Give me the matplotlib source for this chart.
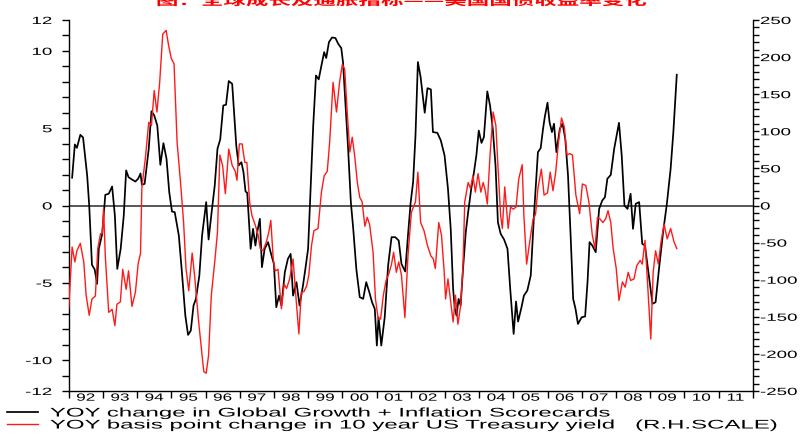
import matplotlib
matplotlib.use("Agg")
import matplotlib.pyplot as plt
from matplotlib.ticker import FixedLocator, NullFormatter
from matplotlib.patheffects import AbstractPathEffect
from matplotlib.transforms import Affine2D

plt.rcParams['font.family'] = ['Liberation Sans', 'DejaVu Sans']

# ---------------- data ----------------
title_text = "图：全球成长及通胀指标——美国国债收益率变化"
legend_labels = ["YOY change in Global Growth + Inflation Scorecards",
                 "YOY basis point change in 10 year US Treasury yield   (R.H.SCALE)"]
year_labels = ["92", "93", "94", "95", "96", "97", "98", "99", "00", "01",
               "02", "03", "04", "05", "06", "07", "08", "09", "10", "11"]
left_ticks = [-12, -10, -5, 0, 5, 10, 12]
right_ticks = [-250, -200, -150, -100, -50, 0, 50, 100, 150, 200, 250]

# Global Growth + Inflation Scorecards (left scale)
black_t = [1992.10, 1992.18, 1992.24, 1992.34, 1992.42, 1992.54, 1992.60, 1992.68, 1992.76, 1992.83,
           1992.88, 1992.98, 1993.07, 1993.17, 1993.27, 1993.35, 1993.42, 1993.52, 1993.61, 1993.68,
           1993.75, 1993.85, 1993.95, 1994.03, 1994.10, 1994.14, 1994.22, 1994.34, 1994.42, 1994.50,
           1994.59, 1994.68, 1994.77, 1994.86, 1994.94, 1995.02, 1995.10, 1995.22, 1995.31, 1995.41,
           1995.49, 1995.57, 1995.65, 1995.72, 1995.82, 1995.90, 1996.02, 1996.09, 1996.19, 1996.27,
           1996.35, 1996.43, 1996.52, 1996.60, 1996.68, 1996.78,
           1996.90, 1996.97, 1997.05, 1997.11, 1997.17, 1997.22, 1997.26, 1997.32, 1997.39, 1997.46,
           1997.52, 1997.59, 1997.65, 1997.73, 1997.83, 1997.93, 1998.00, 1998.07, 1998.15, 1998.22,
           1998.32, 1998.41, 1998.49, 1998.56, 1998.66, 1998.75, 1998.85, 1998.92, 1999.00, 1999.08,
           1999.15, 1999.23, 1999.31, 1999.39, 1999.47, 1999.53, 1999.61, 1999.70, 1999.80, 1999.88,
           1999.97, 2000.02, 2000.09, 2000.17, 2000.25, 2000.32, 2000.41, 2000.51, 2000.61, 2000.70,
           2000.79, 2000.87, 2000.95, 2001.01, 2001.06, 2001.14, 2001.24, 2001.34, 2001.44, 2001.55,
           2001.65, 2001.73,
           2001.84, 2001.92, 2002.00, 2002.07, 2002.14, 2002.21, 2002.29, 2002.41, 2002.49, 2002.59,
           2002.65, 2002.78, 2002.88, 2002.99, 2003.09, 2003.17, 2003.24, 2003.29, 2003.34, 2003.40,
           2003.46, 2003.53, 2003.61, 2003.68, 2003.77, 2003.85, 2003.92, 2003.99, 2004.07, 2004.14,
           2004.24, 2004.32, 2004.40, 2004.48, 2004.55, 2004.63, 2004.73, 2004.83, 2004.91, 2005.01,
           2005.08, 2005.14, 2005.24, 2005.31, 2005.41, 2005.51, 2005.61, 2005.72, 2005.80, 2005.87,
           2005.92, 2006.00, 2006.06, 2006.13, 2006.19, 2006.26, 2006.36, 2006.44, 2006.52, 2006.60,
           2006.68, 2006.75, 2006.82, 2006.89,
           2007.00, 2007.10, 2007.17, 2007.23, 2007.31, 2007.41, 2007.51, 2007.60, 2007.68, 2007.75,
           2007.85, 2007.95, 2008.02, 2008.09, 2008.17, 2008.25, 2008.34, 2008.43, 2008.50, 2008.58,
           2008.68, 2008.77, 2008.85, 2008.95, 2009.07, 2009.16, 2009.26, 2009.38, 2009.49, 2009.60,
           2009.68, 2009.78]
black_v = [1.8, 3.95, 3.73, 4.57, 4.4, 1.94, 0.0, -3.84, -4.14, -5.07,
           -2.8, -1.83, 0.69, 0.76, 1.23, -0.65, -4.1, -2.8, -0.65, 2.27,
           1.83, 1.68, 1.55, 1.73, 2.07, 1.34, 1.4, 3.67, 6.1, 5.83,
           5.18, 2.63, 4.03, 3.02, 0.86, -0.39, -0.43, -1.94, -4.31, -7.12,
           -8.37, -8.09, -6.47, -6.04, -4.53, -1.94, 0.22, -2.2, -0.22, 1.29,
           3.67, 4.27, 6.47, 6.52, 8.05, 7.87,
           3.88, 2.59, 2.8, 2.16, 0.91, 0.82, -0.65, -2.8, -1.51, -2.59,
           -1.62, -0.86, -3.99, -2.8, -2.37, -3.24, -3.78, -6.58, -5.83, -6.47,
           -4.31, -3.45, -3.13, -5.83, -4.96, -6.47, -5.18, -4.1, -2.8, 1.51,
           5.18, 8.41, 8.16, 9.06, 9.92, 9.54, 10.57, 10.87, 10.83, 10.46,
           10.18, 9.28, 6.69, 3.67, 0.22, -1.51, -4.1, -5.93, -6.04, -4.96,
           -5.61, -6.26, -6.69, -9.06, -7.23, -9.06, -7.23, -3.88, -2.05, -2.05,
           -2.27, -3.78,
           -4.27, -1.94, 0.22, 1.51, 4.53, 9.28, 8.31, 6.0, 7.59, 7.51,
           4.75, 4.7, 4.21, 3.24, 1.08, -1.51, -5.39, -6.69, -7.12, -6.04,
           -6.47, -4.1, -1.73, -0.43, 1.08, 2.16, 3.24, 4.85, 4.05, 4.42,
           7.38, 6.47, 4.96, 2.59, -1.08, -1.83, -2.2, -2.8, -5.39, -8.31,
           -6.21, -7.51, -6.58, -5.83, -5.5, -4.53, -0.43, 3.45, 3.71, 4.96,
           5.72, 6.65, 5.39, 4.75, 5.29, 3.45, 4.96, 5.29, 4.31, 1.94,
           -2.16, -6.04, -6.69, -7.66,
           -7.23, -7.18, -4.96, -2.37, -2.59, -3.02, -0.22, 0.32, 0.54, 1.73,
           1.98, 3.67, 4.53, 5.35, 3.24, 0.0, -0.22, 0.76, -1.51, 0.11,
           0.22, -2.48, -2.59, -4.31, -6.36, -6.26, -4.1, -1.73, 0.11, 2.37,
           4.75, 8.46]

# YOY bp change in 10y US Treasury yield (right scale)
red_t = [1992.00, 1992.10, 1992.18, 1992.24, 1992.34, 1992.44, 1992.51, 1992.60, 1992.68, 1992.78,
         1992.85, 1992.93, 1992.98, 1993.02, 1993.07, 1993.17, 1993.27, 1993.35, 1993.41, 1993.51,
         1993.58, 1993.68, 1993.75, 1993.85, 1993.95, 1994.03, 1994.10, 1994.14, 1994.24, 1994.34,
         1994.42, 1994.50, 1994.58, 1994.66, 1994.75, 1994.85, 1994.92, 1995.00, 1995.08, 1995.17,
         1995.27, 1995.36, 1995.43, 1995.51, 1995.61, 1995.68, 1995.80, 1995.88, 1995.95, 1996.02,
         1996.09, 1996.17, 1996.27, 1996.35, 1996.42, 1996.50, 1996.58, 1996.68, 1996.78, 1996.87,
         1996.92, 1996.99, 1997.07,
         1997.15, 1997.21, 1997.29, 1997.36, 1997.46, 1997.54, 1997.60, 1997.68, 1997.78, 1997.85,
         1997.91, 1997.98, 1998.04, 1998.12, 1998.22, 1998.30, 1998.37, 1998.46, 1998.56, 1998.64,
         1998.73, 1998.80, 1998.88, 1998.96, 1999.02, 1999.10, 1999.17, 1999.29, 1999.39, 1999.47,
         1999.56, 1999.63, 1999.73, 1999.83, 1999.92, 2000.00, 2000.07, 2000.15, 2000.22, 2000.29,
         2000.36, 2000.44, 2000.51, 2000.58, 2000.66, 2000.73, 2000.80, 2000.90, 2000.97, 2001.05,
         2001.12, 2001.20, 2001.28, 2001.36, 2001.44, 2001.50, 2001.58, 2001.65, 2001.73, 2001.83,
         2001.92, 2002.02,
         2002.14, 2002.21, 2002.29, 2002.39, 2002.49, 2002.59, 2002.66, 2002.72, 2002.82, 2002.90,
         2002.98, 2003.02, 2003.09, 2003.17, 2003.24, 2003.31, 2003.38, 2003.46, 2003.53, 2003.58,
         2003.68, 2003.75, 2003.82, 2003.89, 2003.97, 2004.05, 2004.12, 2004.18, 2004.24, 2004.32,
         2004.41, 2004.49, 2004.55, 2004.63, 2004.68, 2004.75, 2004.85, 2004.92, 2005.00, 2005.08,
         2005.16, 2005.26, 2005.31, 2005.39, 2005.48, 2005.58, 2005.65, 2005.72, 2005.82, 2005.90,
         2006.00, 2006.08, 2006.16, 2006.24, 2006.32, 2006.41, 2006.49, 2006.57, 2006.65,
         2006.73, 2006.83, 2006.94, 2007.02, 2007.12, 2007.21, 2007.31, 2007.39, 2007.46, 2007.53,
         2007.62, 2007.70, 2007.77, 2007.85, 2007.92, 2008.01, 2008.09, 2008.19, 2008.27, 2008.36,
         2008.43, 2008.53, 2008.61, 2008.71, 2008.77, 2008.85, 2008.93, 2009.02, 2009.09, 2009.16,
         2009.24, 2009.32, 2009.41, 2009.50, 2009.60, 2009.70, 2009.78]
red_v = [-139, -56, -76, -61, -51, -76, -121, -148, -126, -122,
         -58, -38, -38, -4, -68, -144, -140, -162, -133, -130,
         -86, -113, -88, -136, -117, -79, -64, 25, 63, 112,
         108, 155, 126, 166, 231, 236, 216, 198, 191, 85,
         31, -23, -85, -115, -64, -94, -157, -193, -224, -226,
         -202, -121, -76, -36, 68, 54, 16, 76, 54, 46,
         34, 83, 83,
         58, 58, 5, -14, -27, -40, -58, -61, -49, -36,
         -20, -72, -88, -86, -139, -106, -112, -99, -72, -121,
         -173, -117, -116, -108, -94, -54, -34, -31, 18, 40,
         46, 85, 166, 126, 166, 190, 184, 121, 72, 92,
         68, 31, 11, 5, -28, -16, -26, -63, -126, -153,
         -153, -121, -101, -92, -79, -63, -90, -76, -94, -151,
         -68, -9,
         5, 45, -23, -34, -54, -68, -72, -85, -23, -40,
         -90, -126, -99, -130, -157, -121, -160, -135, -81, 5,
         31, 23, 40, 18, 43, 18, 31, 20, 2, 68,
         126, 108, 54, -14, -31, 25, -31, -2, -5, -2,
         36, 55, -14, -79, -49, -18, -12, 23, 49, 14,
         17, 45, 20, 45, 85, 118, 106, 68, 70,
         68, 14, -11, 29, 27, 5, -40, -58, -16, -18,
         -23, -18, -7, -23, -58, -85, -128, -103, -110, -90,
         -101, -99, -81, -74, -79, -47, -108, -180, -90, -61,
         -79, -49, -25, -45, -31, -49, -58]


class Stretch(AbstractPathEffect):
    """Draw text glyphs widened horizontally (the reference type is wide)."""

    def __init__(self, sx, anchor='left'):
        super().__init__()
        self.sx = sx
        self.anchor = anchor

    def draw_path(self, renderer, gc, tpath, affine, rgbFace=None):
        ext = tpath.get_extents(affine)
        if self.anchor == 'left':
            x0 = ext.x0
        elif self.anchor == 'right':
            x0 = ext.x1
        else:
            x0 = 0.5 * (ext.x0 + ext.x1)
        aff = affine + Affine2D().translate(-x0, 0).scale(self.sx, 1.0).translate(x0, 0)
        renderer.draw_path(gc, tpath, aff, rgbFace)


# ---------------- figure ----------------
fig = plt.figure(figsize=(8.08, 4.34), dpi=100)
ax = fig.add_axes([68.7 / 808, 43 / 434, 684 / 808, 371 / 434])
ax2 = ax.twinx()

ax.set_xlim(1992, 2012)
ax.set_ylim(-12, 12)
ax2.set_ylim(-250, 250)

ax.axhline(0, color="#4a4a4a", lw=1.3, zorder=1)
ax.plot(black_t, black_v, color="black", lw=1.25, zorder=3)
ax2.plot(red_t, red_v, color="#ff1a1a", lw=1.0, zorder=2)

for a in (ax, ax2):
    a.spines['top'].set_visible(False)
ax.spines['right'].set_visible(False)
ax2.spines['left'].set_visible(False)
ax2.spines['bottom'].set_visible(False)
for s in ('left', 'bottom'):
    ax.spines[s].set_linewidth(1.0)
ax2.spines['right'].set_linewidth(1.0)

TICK_FS = 7.5
TICK_SX = 1.8

# x axis: year boundaries as ticks, labels centred in each year
years = list(range(1992, 2013))
ax.xaxis.set_major_locator(FixedLocator(years))
ax.xaxis.set_major_formatter(NullFormatter())
ax.xaxis.set_minor_locator(FixedLocator([y + 0.5 for y in range(1992, 2012)]))
ax.set_xticklabels(year_labels, minor=True)
ax.tick_params(axis='x', which='major', direction='out', length=5, width=1.0)
ax.tick_params(axis='x', which='minor', length=0, pad=1.2, labelsize=TICK_FS)

# left axis
ax.yaxis.set_major_locator(FixedLocator(left_ticks))
ax.set_yticklabels([str(v) for v in left_ticks])
ax.yaxis.set_minor_locator(FixedLocator(list(range(-12, 13))))
ax.tick_params(axis='y', which='both', direction='out', length=5, width=1.0,
               labelsize=TICK_FS, pad=7)

# right axis
ax2.yaxis.set_major_locator(FixedLocator(right_ticks))
ax2.set_yticklabels([str(v) for v in right_ticks])
ax2.yaxis.set_minor_locator(FixedLocator(list(range(-250, 251, 10))))
ax2.tick_params(axis='y', which='both', direction='out', length=4, width=1.0,
                labelsize=TICK_FS, pad=1.5)

for t in ax.get_xticklabels(minor=True):
    t.set_path_effects([Stretch(1.65, 'center')])
for t in ax.get_yticklabels():
    t.set_path_effects([Stretch(TICK_SX, 'right')])
for t in ax2.get_yticklabels():
    t.set_path_effects([Stretch(TICK_SX, 'left')])

# legend below the plot
handles = ax.get_lines()[1:] + ax2.get_lines()
leg = fig.legend(handles, legend_labels, loc='upper left',
                 bbox_to_anchor=(7 / 808, 1 - 407.5 / 434), frameon=False,
                 fontsize=9, handlelength=2.45, handletextpad=1.0,
                 labelspacing=0.0, borderpad=0.0, borderaxespad=0.0)
for t in leg.get_texts():
    t.set_path_effects([Stretch(1.92, 'left')])

# title (mostly cut off at top edge in the reference)
title = fig.text(0.497, 1 - 5.0 / 434, title_text, color="#ff0000", ha='center',
                 va='baseline', fontsize=9, fontweight='bold',
                 family=['Noto Sans CJK SC', 'DejaVu Sans'])
title.set_path_effects([Stretch(1.8, 'center')])

fig.savefig("out.png", dpi=100)
